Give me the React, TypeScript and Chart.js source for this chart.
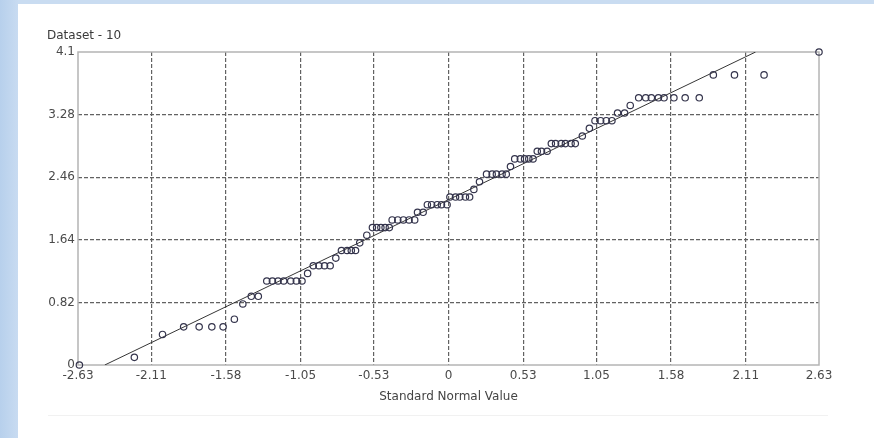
import React, { useEffect, useRef } from 'react';
import { Chart, registerables } from 'chart.js';

Chart.register(...registerables);

const chartTitle = 'Dataset - 10';
const xAxisTitle = 'Standard Normal Value';

const xTickValues = [-2.63, -2.11, -1.58, -1.05, -0.53, 0, 0.53, 1.05, 1.58, 2.11, 2.63];
const xTickLabels = ['-2.63', '-2.11', '-1.58', '-1.05', '-0.53', '0', '0.53', '1.05', '1.58', '2.11', '2.63'];
const yTickValues = [0, 0.82, 1.64, 2.46, 3.28, 4.1];
const yTickLabels = ['0', '0.82', '1.64', '2.46', '3.28', '4.1'];

// Standard normal quantiles (x) and dataset values (y)
const qqX = [
  -2.62, -2.23, -2.03,
  -1.88, -1.77, -1.68, -1.6,
  -1.52, -1.46, -1.4, -1.35,
  -1.29, -1.25, -1.21, -1.17, -1.12, -1.08, -1.04,
  -1.0,
  -0.96, -0.92, -0.88, -0.84,
  -0.8,
  -0.76, -0.72, -0.69, -0.66,
  -0.63, -0.58,
  -0.54, -0.51, -0.48, -0.45, -0.42,
  -0.4, -0.36, -0.32, -0.28, -0.24,
  -0.22, -0.18,
  -0.15, -0.12, -0.08, -0.05, -0.01,
  0.01, 0.05, 0.08, 0.12, 0.15,
  0.18, 0.22,
  0.27, 0.31, 0.34, 0.38, 0.41,
  0.44,
  0.47, 0.51, 0.54, 0.57, 0.6,
  0.63, 0.66, 0.7,
  0.73, 0.76, 0.8, 0.83, 0.87, 0.9,
  0.95, 1.0,
  1.04, 1.08, 1.12, 1.16,
  1.2, 1.25, 1.29,
  1.35, 1.4, 1.44, 1.49, 1.53, 1.6, 1.68, 1.78,
  1.88, 2.03, 2.24,
  2.63,
];
const qqY = [
  0.0, 0.1, 0.4,
  0.5, 0.5, 0.5, 0.5,
  0.6, 0.8, 0.9, 0.9,
  1.1, 1.1, 1.1, 1.1, 1.1, 1.1, 1.1,
  1.2,
  1.3, 1.3, 1.3, 1.3,
  1.4,
  1.5, 1.5, 1.5, 1.5,
  1.6, 1.7,
  1.8, 1.8, 1.8, 1.8, 1.8,
  1.9, 1.9, 1.9, 1.9, 1.9,
  2.0, 2.0,
  2.1, 2.1, 2.1, 2.1, 2.1,
  2.2, 2.2, 2.2, 2.2, 2.2,
  2.3, 2.4,
  2.5, 2.5, 2.5, 2.5, 2.5,
  2.6,
  2.7, 2.7, 2.7, 2.7, 2.7,
  2.8, 2.8, 2.8,
  2.9, 2.9, 2.9, 2.9, 2.9, 2.9,
  3.0, 3.1,
  3.2, 3.2, 3.2, 3.2,
  3.3, 3.3, 3.4,
  3.5, 3.5, 3.5, 3.5, 3.5, 3.5, 3.5, 3.5,
  3.8, 3.8, 3.8,
  4.1,
];

// Reference (fitted) line end points
const fitLineX = [-2.44, 2.18];
const fitLineY = [0, 4.1];

const FONT = '"DejaVu Sans", "Liberation Sans", sans-serif';

const framePlugin = {
  id: 'frameAndTitle',
  beforeDatasetsDraw(chart: any) {
    const { ctx, chartArea: a } = chart;
    ctx.save();
    ctx.strokeStyle = '#b4b4b4';
    ctx.lineWidth = 1.5;
    ctx.setLineDash([]);
    ctx.strokeRect(a.left, a.top, a.right - a.left, a.bottom - a.top);
    ctx.fillStyle = '#3a3a3a';
    ctx.font = `12px ${FONT}`;
    ctx.textAlign = 'left';
    ctx.textBaseline = 'middle';
    ctx.fillText(chartTitle, 47, 36);
    ctx.restore();
  },
};

export default function App() {
  const canvasRef = useRef<HTMLCanvasElement | null>(null);

  useEffect(() => {
    if (!canvasRef.current) return;
    const lastX = xTickValues.length - 1;
    const lastY = yTickValues.length - 1;
    const chart = new Chart(canvasRef.current, {
      type: 'scatter',
      data: {
        datasets: [
          {
            label: 'fit',
            data: fitLineX.map((x, i) => ({ x, y: fitLineY[i] })),
            showLine: true,
            borderColor: '#363636',
            borderWidth: 1,
            pointRadius: 0,
            order: 2,
          },
          {
            label: chartTitle,
            data: qqX.map((x, i) => ({ x, y: qqY[i] })),
            showLine: false,
            pointRadius: 3.2,
            pointBorderWidth: 1.2,
            pointBorderColor: '#34344c',
            pointBackgroundColor: 'rgba(255,255,255,0)',
            clip: false,
            order: 1,
          },
        ],
      },
      options: {
        animation: false,
        responsive: false,
        maintainAspectRatio: false,
        layout: { padding: { left: 0, right: 55, top: 52, bottom: 28 } },
        plugins: {
          legend: { display: false },
          tooltip: { enabled: false },
        },
        scales: {
          x: {
            type: 'linear',
            min: -2.63,
            max: 2.63,
            afterBuildTicks: (scale: any) => {
              scale.ticks = xTickValues.map((v) => ({ value: v }));
            },
            afterFit: (scale: any) => {
              scale.height = 45;
            },
            ticks: {
              padding: 4,
              color: '#4a4a4a',
              font: { family: FONT, size: 12 },
              maxRotation: 0,
              autoSkip: false,
              callback: (_v: any, i: number) => xTickLabels[i],
            },
            grid: {
              drawTicks: false,
              lineWidth: 1.2,
              color: (c: any) => (c.index === 0 || c.index === lastX ? 'rgba(0,0,0,0)' : '#626262'),
            },
            border: { display: false, dash: [4, 2] },
            title: {
              display: true,
              text: xAxisTitle,
              color: '#444',
              font: { family: FONT, size: 12 },
              padding: { top: 0, bottom: 6 },
            },
          },
          y: {
            type: 'linear',
            min: 0,
            max: 4.1,
            afterBuildTicks: (scale: any) => {
              scale.ticks = yTickValues.map((v) => ({ value: v }));
            },
            afterFit: (scale: any) => {
              scale.width = 78;
            },
            ticks: {
              padding: 3,
              color: '#4a4a4a',
              font: { family: FONT, size: 12 },
              autoSkip: false,
              callback: (_v: any, i: number) => yTickLabels[i],
            },
            grid: {
              drawTicks: false,
              lineWidth: 1.2,
              color: (c: any) => (c.index === 0 || c.index === lastY ? 'rgba(0,0,0,0)' : '#626262'),
            },
            border: { display: false, dash: [4, 2] },
          },
        },
      },
      plugins: [framePlugin],
    });
    return () => chart.destroy();
  }, []);

  return (
    <div
      style={{
        position: 'fixed',
        left: 0,
        top: 0,
        width: 874,
        height: 438,
        background: '#ffffff',
        overflow: 'hidden',
      }}
    >
      <div
        style={{
          position: 'absolute',
          left: 0,
          top: 0,
          width: 874,
          height: 4,
          background: '#c9dcf1',
        }}
      />
      <div
        style={{
          position: 'absolute',
          left: 0,
          top: 0,
          width: 18,
          height: 438,
          background: 'linear-gradient(to right, #b7d0ec, #c8dbf1)',
        }}
      />
      <div
        style={{
          position: 'absolute',
          left: 48,
          top: 415,
          width: 780,
          height: 1,
          background: '#f1f1f1',
        }}
      />
      <canvas
        ref={canvasRef}
        width={874}
        height={438}
        style={{ position: 'absolute', left: 0, top: 0, display: 'block' }}
      />
    </div>
  );
}
